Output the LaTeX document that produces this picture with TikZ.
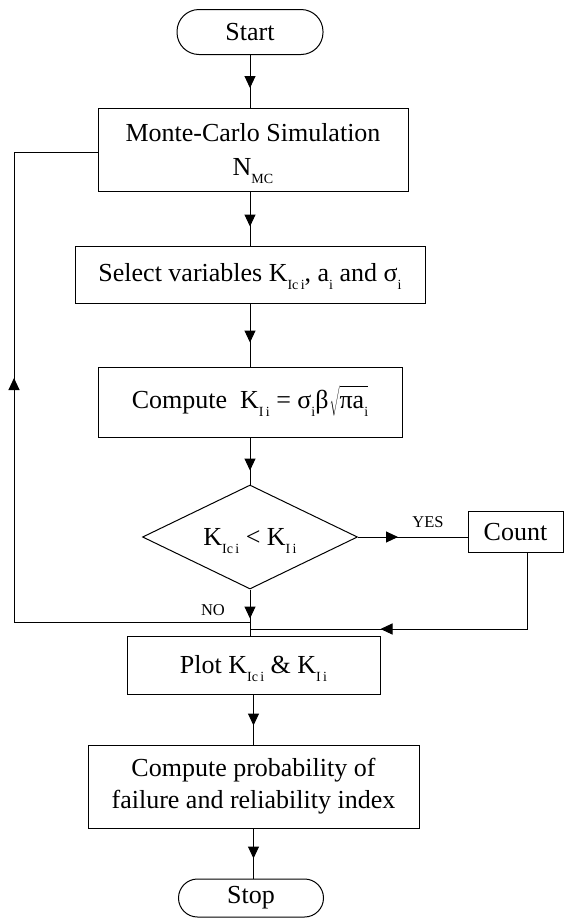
\documentclass[tikz,border=0pt]{standalone}
\usepackage{fontspec}
\usepackage{graphicx}
\setmainfont{Liberation Serif}
\usetikzlibrary{arrows.meta,decorations.markings,shapes.geometric}
\newcommand{\sbs}[1]{\raisebox{-8pt}[0pt][0pt]{\fontsize{14}{14}\selectfont #1}}
\newcommand{\myroot}[1]{\smash{$\sqrt{\rule[-5pt]{0pt}{24pt}\mbox{#1}}$}}
\begin{document}
\begin{tikzpicture}[x=1pt,y=-1pt,
  every node/.style={text=black},
  box/.style={draw, line width=1pt, inner sep=0pt, align=center,
    font=\fontsize{26}{32}\selectfont},
  dec/.style={box, diamond, aspect=2.07},
  lbl/.style={inner sep=0pt, font=\fontsize{16.5}{18}\selectfont},
  conn/.style={line width=1pt},
  midarr/.style={conn, postaction={decorate, decoration={markings,
    mark=at position #1 with {\arrow{Triangle[length=12pt,width=11pt]}}}}}
]
\useasboundingbox (0,0) rectangle (565,919);

\node[box, rounded corners=22pt, minimum width=146pt, minimum height=45pt] (start) at (250,32) {Start};
\node[box, minimum width=310pt, minimum height=83pt, font=\fontsize{26}{34}\selectfont] (mc) at (253,149.5) {Monte-Carlo Simulation\\N\sbs{MC}};
\node[box, minimum width=350pt, minimum height=57pt] (sel) at (250,274.5) {Select variables K\sbs{Ic\,i}, a\sbs{i} and σ\sbs{i}};
\node[box, minimum width=304pt, minimum height=70pt] (comp) at (250,402) {Compute\ \ K\sbs{I\,i} = σ\sbs{i}β\kern1pt\myroot{πa\sbs{i}}};
\node[dec, minimum width=215pt, minimum height=104pt] (dia) at (250,537) {K\sbs{Ic\,i} < K\sbs{I\,i}};
\node[box, minimum width=95pt, minimum height=41pt] (count) at (515.5,532) {Count};
\node[box, minimum width=253pt, minimum height=58pt] (plot) at (253.5,665) {Plot K\sbs{Ic\,i} \& K\sbs{I\,i}};
\node[box, minimum width=331pt, minimum height=83pt] (prob) at (253.5,786.5) {Compute probability of\\failure and reliability index};
\node[box, rounded corners=19pt, minimum width=145pt, minimum height=38pt] (stop) at (251,898) {Stop};

\node[lbl] (yes) at (428,522) {YES};
\node[lbl] (no) at (213,610) {NO};

\coordinate (jn) at (250,622);
\coordinate (lb) at (14,622);
\coordinate (lt) at (14,152);
\coordinate (cb) at (527,552.5);
\coordinate (cr) at (250,629);

\draw[midarr=33pt] (start.south) -- (start.south |- mc.north);
\draw[midarr=35pt] (mc.south -| sel.north) -- (sel.north);
\draw[midarr=39pt] (sel.south) -- (comp.north);
\draw[midarr=33pt] (comp.south) -- (dia.north);
\draw[midarr=40pt] (dia.east) -- (dia.east -| count.west);
\draw[midarr=29pt] (dia.south) -- (dia.south |- plot.north);
\draw[midarr=223pt] (cb) |- (cr);
\draw[midarr=480pt] (jn) -- (lb) -- (lt) -- (lt -| mc.west);
\draw[midarr=31pt] (plot.south -| prob.north) -- (prob.north);
\draw[midarr=30pt] (prob.south) -- (prob.south |- stop.north);
\end{tikzpicture}
\end{document}
